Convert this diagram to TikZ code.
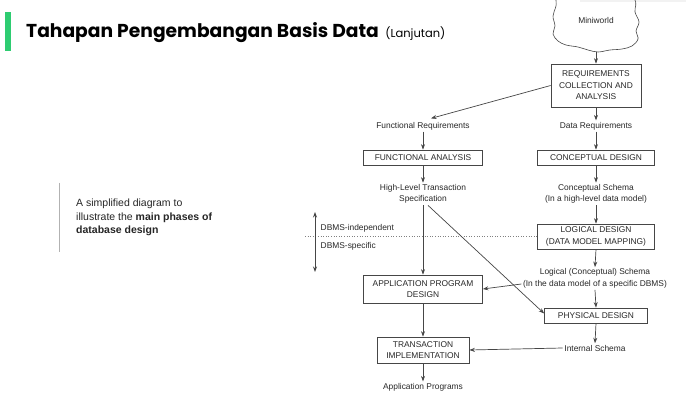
\documentclass[tikz,border=0pt]{standalone}
\usepackage{fontspec}
\setmainfont{Liberation Sans}
\newfontfamily\poppins{Poppins}
\usetikzlibrary{arrows.meta,calc,positioning}
\definecolor{slidegreen}{RGB}{46,204,113}
\definecolor{ink}{RGB}{40,40,40}
\definecolor{rule}{RGB}{70,70,70}
\newcommand{\diagfont}{\fontsize{8.4}{11.5}\selectfont}

\begin{document}
\begin{tikzpicture}[
    x=1pt, y=-1pt,
    >={Stealth[length=5.5pt,width=4pt]},
    box/.style={draw=rule, line width=0.7pt, text=ink, font=\diagfont, align=center, inner sep=0pt},
    lbl/.style={text=ink, font=\diagfont, align=center, inner sep=1.5pt},
    flow/.style={->, draw=rule, line width=0.7pt},
  ]
  \useasboundingbox[fill=white] (0,0) rectangle (686,403);

  % slide header
  \fill[gray!10] (580,0) rectangle (686,2.5);
  \fill[slidegreen] (4.5,12) rectangle (11,51);
  \node[anchor=base west, inner sep=0, font=\poppins\bfseries\fontsize{18.7}{21}\selectfont] (title) at (26,38) {Tahapan Pengembangan Basis Data};
  \node[anchor=base west, inner sep=0, font=\poppins\fontsize{11.5}{14}\selectfont, xshift=6pt] (sub) at (title.base east) {(Lanjutan)};

  % side note
  \draw[gray!60, line width=1pt] (59,183) -- (59,252);
  \node[anchor=north west, align=left, inner sep=0, text=black!85, font=\fontsize{10.5}{13.5}\selectfont] (note) at (76,199) {A simplified diagram to\\illustrate the \textbf{main phases of}\\\textbf{database design}};

  % miniworld cloud
  \draw[rule, line width=0.6pt] plot[smooth cycle, tension=0.6] coordinates {(560,-12) (556,6) (553,16) (555,26) (553,34) (558,41) (566,45) (578,47) (588,50) (598,52) (610,50) (622,49) (632,46) (638,39) (636,31) (639,22) (635,12) (633,-2) (600,-14)};
  \node[lbl] (mw) at (596,21) {Miniworld};
  \coordinate (mwbot) at (596,52);

  % data side
  \node[box, minimum width=90pt, minimum height=43pt] (reqs) at (596,85.5) {REQUIREMENTS\\COLLECTION AND\\ANALYSIS};
  \node[lbl] (datareq) at (596,126) {Data Requirements};
  \node[box, minimum width=117pt, minimum height=15pt] (cd) at (596,157.5) {CONCEPTUAL DESIGN};
  \node[lbl] (cschema) at (596,194) {Conceptual Schema\\(In a high-level data model)};
  \node[box, minimum width=117pt, minimum height=25pt] (ld) at (596,236.5) {LOGICAL DESIGN\\(DATA MODEL MAPPING)};
  \node[lbl] (lschema) at (595,278.5) {Logical (Conceptual) Schema\\(In the data model of a specific DBMS)};
  \node[box, minimum width=103pt, minimum height=15pt] (pd) at (596,315.5) {PHYSICAL DESIGN};
  \node[lbl] (intschema) at (595,348) {Internal Schema};

  % functional side
  \node[lbl] (funcreq) at (423,126) {Functional Requirements};
  \node[box, minimum width=119pt, minimum height=15pt] (fa) at (423,157.5) {FUNCTIONAL ANALYSIS};
  \node[lbl] (hlts) at (423,194) {High-Level Transaction\\Specification};
  \node[box, minimum width=119pt, minimum height=28pt] (apd) at (423,289) {APPLICATION PROGRAM\\DESIGN};
  \node[box, minimum width=92pt, minimum height=26pt] (ti) at (423,350) {TRANSACTION\\IMPLEMENTATION};
  \node[lbl] (appprog) at (423,387) {Application Programs};

  % DBMS split
  \coordinate (dotstart) at (305,237);
  \draw[gray, line width=0.6pt, dash pattern=on 1pt off 1.6pt] (dotstart |- ld.west) -- (ld.west);
  \coordinate (indtop) at (315,212);
  \coordinate (spcbot) at (315,272);
  \draw[flow, <->] (indtop) -- (spcbot);
  \node[lbl, anchor=west] (indep) at (319,228) {DBMS-independent};
  \node[lbl, anchor=west] (spec) at (319,246) {DBMS-specific};

  % arrows
  \draw[flow] (mwbot) -- (reqs.north);
  \draw[flow] (reqs.west) -- ([xshift=8pt, yshift=2pt]funcreq.north);
  \draw[flow] (reqs.south) -- (datareq.north);
  \draw[flow] (datareq.south) -- (cd.north);
  \draw[flow] (cd.south) -- (cschema.north);
  \draw[flow] (cschema.south) -- (ld.north);
  \draw[flow] (ld.south) -- (lschema.north);
  \draw[flow] (lschema.south) -- (pd.north);
  \draw[flow] (pd.south) -- (intschema.north);
  \draw[flow] (funcreq.south) -- (fa.north);
  \draw[flow] (fa.south) -- (hlts.north);
  \draw[flow] (hlts.south) -- (apd.north);
  \draw[flow] ([xshift=5pt]hlts.south) -- ([yshift=2pt]pd.west);
  \draw[flow] ([yshift=-5.5pt]lschema.west) -- (apd.east);
  \draw[flow] (apd.south) -- (ti.north);
  \draw[flow] (intschema.west) -- (ti.east);
  \draw[flow] (ti.south) -- (appprog.north);

\end{tikzpicture}
\end{document}
